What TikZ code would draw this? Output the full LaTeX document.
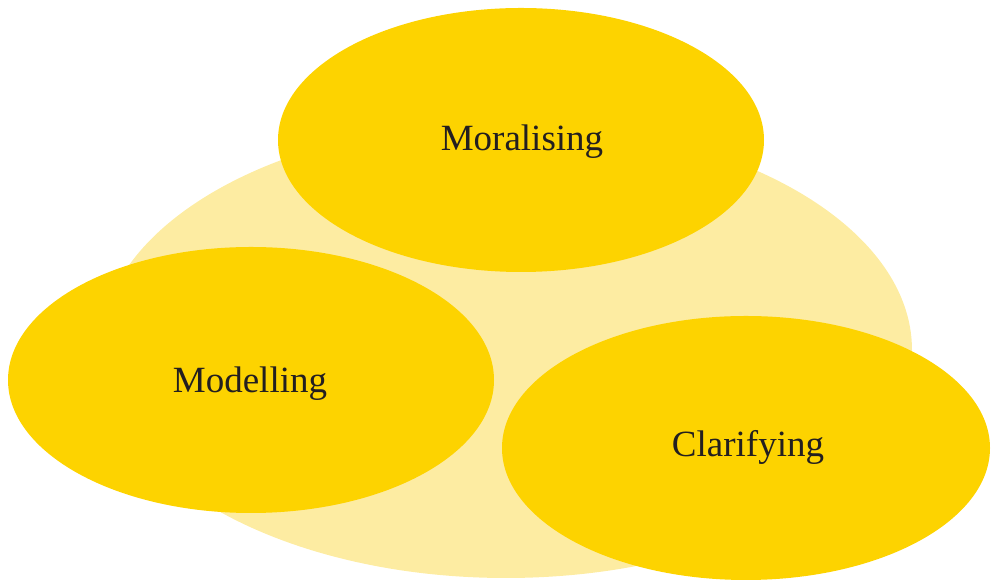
\documentclass[tikz,border=0pt]{standalone}
\usepackage{fontspec}
\setmainfont{Liberation Serif}
\definecolor{paleyellow}{HTML}{FDECA2}
\definecolor{goldyellow}{HTML}{FDD300}
\definecolor{inkgrey}{HTML}{231F20}
\begin{document}
\begin{tikzpicture}[x=0.5pt, y=-0.5pt]
%Khung hình
\useasboundingbox (0,0) rectangle (992,581);
\tikzset{blob/.style={fill=goldyellow, draw=none},
  blobtext/.style={text=inkgrey, font=\fontsize{18.5}{22}\selectfont}}
%Elip nền
\fill[paleyellow] (506,350) ellipse [x radius=406, y radius=228];
%Ba elip
\fill[blob] (521,140) ellipse [x radius=243, y radius=132];
\fill[blob] (251,380) ellipse [x radius=243, y radius=133];
\fill[blob] (746,448) ellipse [x radius=244, y radius=132];
%Chữ
\node[blobtext] (moral) at (522,142) {Moralising};
\node[blobtext] (model) at (250,384) {Modelling};
\node[blobtext] (clar) at (748,447) {Clarifying};
\end{tikzpicture}
\end{document}
